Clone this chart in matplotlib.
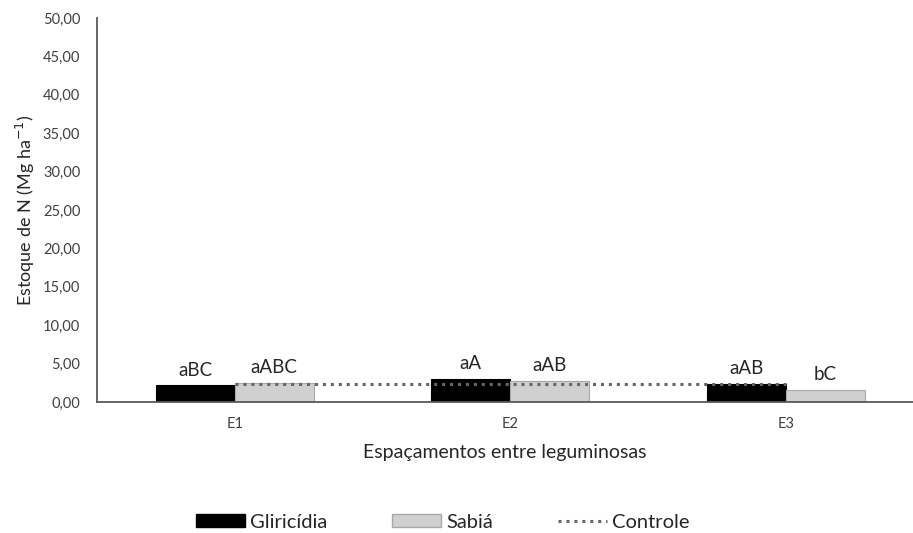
import numpy as np
import matplotlib.pyplot as plt
from matplotlib.patches import Patch
from matplotlib.lines import Line2D

plt.rcParams['font.family'] = ['Lato', 'DejaVu Sans']

# Data
espacamentos = ['E1', 'E2', 'E3']
gliricidia = [2.15, 3.00, 2.40]
sabia = [2.45, 2.75, 1.60]
controle = 2.38
letras_glir = ['aBC', 'aA', 'aAB']
letras_sabia = ['aABC', 'aAB', 'bC']
yticks = np.arange(0, 55, 5)

txt = '#404040'
x = np.arange(len(espacamentos))
w = 0.287

fig = plt.figure(figsize=(9.13, 5.33), dpi=100)
ax = fig.add_axes([0.1062, 0.2458, 0.8938, 0.7205])

b1 = ax.bar(x - w/2, gliricidia, w, color='black', edgecolor='black', linewidth=0.8, zorder=2)
b2 = ax.bar(x + w/2, sabia, w, color='#d0d0d0', edgecolor='#a8a8a8', linewidth=0.8, zorder=2)
ax.plot(x, [controle] * len(x), linestyle=(0, (1, 1.6)), color='#666666', linewidth=2.2, zorder=3)

for bars, labels in ((b1, letras_glir), (b2, letras_sabia)):
    for b, lab in zip(bars, labels):
        ax.annotate(lab, (b.get_x() + b.get_width()/2, b.get_height()),
                    xytext=(0, 5), textcoords='offset points', ha='center', va='bottom',
                    fontsize=13.5, color='#262626')

ax.set_xlim(-0.5, 2.462)
ax.set_ylim(0, 50)
ax.set_xticks(x, espacamentos)
ax.set_yticks(yticks, [f'{v:.2f}'.replace('.', ',') for v in yticks])
ax.tick_params(axis='both', length=0, colors=txt)
ax.tick_params(axis='y', labelsize=10.5, pad=12)
ax.tick_params(axis='x', labelsize=10.5, pad=11)
for s in ('top', 'right'):
    ax.spines[s].set_visible(False)
for s in ('left', 'bottom'):
    ax.spines[s].set_color('#595959')
    ax.spines[s].set_linewidth(1.3)

ax.set_ylabel('Estoque de N (Mg ha$^{-1}$)', fontsize=13, color='#262626', labelpad=4)
ax.set_xlabel('Espaçamentos entre leguminosas', fontsize=14, color='#262626', labelpad=9)

handles = [Patch(facecolor='black', edgecolor='black'),
           Patch(facecolor='#d0d0d0', edgecolor='#a8a8a8'),
           Line2D([], [], linestyle=(0, (1, 1.6)), color='#666666', linewidth=2.2)]
fig.legend(handles, ['Gliricídia', 'Sabiá', 'Controle'], loc='center', ncol=3,
           bbox_to_anchor=(0.485, 0.02), frameon=False, fontsize=14.5,
           handlelength=2.45, handleheight=0.6, handletextpad=0.25, columnspacing=3.2,
           labelcolor='#262626')

fig.savefig('out.png', dpi=100)
